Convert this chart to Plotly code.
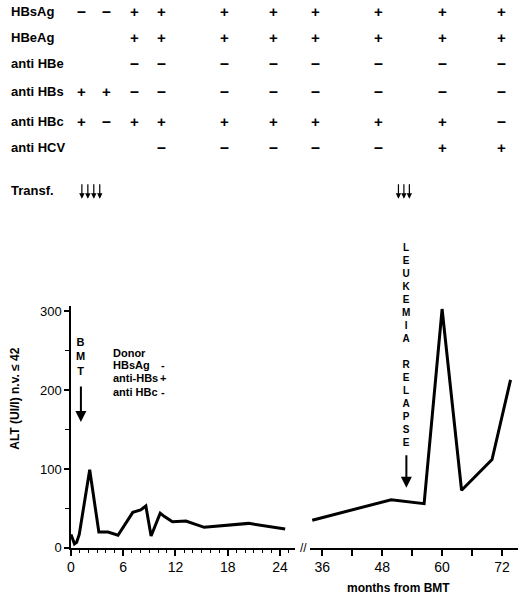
import plotly.graph_objects as go

# ALT values, months after BMT
left_months = [0, 0.4, 0.65, 0.95, 2.15, 3.2, 4.25, 5.4, 7.1, 8.0, 8.6, 9.2, 10.25, 10.7, 11.65, 13.2, 15.3, 20.4, 24.6]
left_alt = [17, 5, 7, 17, 99, 20, 20, 16, 45, 48, 53, 15, 44, 40, 33, 34, 26, 31, 24]

right_months = [34.0, 49.8, 56.4, 60.0, 63.9, 70.0, 73.7]
right_alt = [35, 61, 56, 303, 73, 112, 213]

# serology table (one entry per column)
row_names = ["HBsAg", "HBeAg", "anti HBe", "anti HBs", "anti HBc", "anti HCV"]
hbsag = ["-", "-", "+", "+", "+", "+", "+", "+", "+", "+"]
hbeag = ["", "", "+", "+", "+", "+", "+", "+", "+", "+"]
anti_hbe = ["", "", "-", "-", "-", "-", "-", "-", "-", "-"]
anti_hbs = ["+", "+", "-", "-", "-", "-", "-", "-", "-", "-"]
anti_hbc = ["+", "-", "+", "+", "+", "+", "+", "+", "+", "-"]
anti_hcv = ["", "", "", "-", "-", "-", "-", "-", "+", "+"]
table_rows = [hbsag, hbeag, anti_hbe, anti_hbs, anti_hbc, anti_hcv]

donor_labels = ["HBsAg", "anti-HBs", "anti HBc"]
donor_signs = ["-", "+", "-"]

x_ticks_left = [0, 6, 12, 18, 24]
x_ticks_right = [36, 48, 60, 72]
y_ticks = [0, 100, 200, 300]

# ========================

W = 520
H = 604
FONT = "Liberation Sans"


def px(x):
    return x / W


def py(y):
    return 1 - y / H


def note(fig, text, x, y, size, bold=True, xanchor="center", **kw):
    fig.add_annotation(
        text=text, x=px(x), y=py(y), xref="paper", yref="paper",
        xanchor=xanchor, yanchor="middle", showarrow=False,
        font=dict(family=FONT, size=size, color="black",
                  weight="bold" if bold else "normal"),
        **kw
    )


def arrow(fig, x, y_tip, length, width, size):
    fig.add_annotation(
        text="", x=px(x), y=py(y_tip), xref="paper", yref="paper",
        ax=0, ay=-length, showarrow=True, arrowhead=2,
        arrowsize=size, arrowwidth=width, arrowcolor="black",
    )


fig = go.Figure()

fig.add_trace(go.Scatter(
    x=left_months, y=left_alt, mode="lines",
    line=dict(color="black", width=3),
    xaxis="x", yaxis="y",
))
fig.add_trace(go.Scatter(
    x=right_months, y=right_alt, mode="lines",
    line=dict(color="black", width=3),
    xaxis="x2", yaxis="y",
))

axis_font = dict(family=FONT, color="black")

fig.update_layout(
    width=W, height=H,
    margin=dict(l=0, r=0, t=0, b=0),
    paper_bgcolor="white", plot_bgcolor="white",
    showlegend=False,
    xaxis=dict(
        domain=[px(67.5), px(293)], range=[0, 25.7],
        anchor="y", showgrid=False, zeroline=False,
        showline=True, linecolor="black", linewidth=1.5,
        tickmode="array", tickvals=x_ticks_left,
        ticks="outside", ticklen=6, tickwidth=1.5, tickcolor="black",
        minor=dict(dtick=1, tick0=0, ticks="outside", ticklen=3,
                   tickwidth=1.2, tickcolor="black"),
        tickfont=dict(size=14, **axis_font),
    ),
    xaxis2=dict(
        domain=[px(308), px(518)], range=[33.48, 75.2],
        anchor="y", showgrid=False, zeroline=False,
        showline=True, linecolor="black", linewidth=1.5,
        tickmode="array", tickvals=x_ticks_right,
        ticks="outside", ticklen=6, tickwidth=1.5, tickcolor="black",
        minor=dict(dtick=6, tick0=36, ticks="outside", ticklen=6,
                   tickwidth=1.5, tickcolor="black"),
        tickfont=dict(size=14, **axis_font),
    ),
    yaxis=dict(
        domain=[py(555), py(309)], range=[0, 307],
        anchor="x", showgrid=False, zeroline=False,
        showline=True, linecolor="black", linewidth=1.5,
        tickmode="array", tickvals=y_ticks,
        ticks="outside", ticklen=5, tickwidth=1.5, tickcolor="black",
        minor=dict(dtick=50, ticks="outside", ticklen=4,
                   tickwidth=1.2, tickcolor="black"),
        tickfont=dict(size=13, **axis_font),
    ),
)

# serology table on top
row_y = [9.5, 36, 63, 90.5, 121.5, 148]
col_x = [78, 103.5, 131.5, 159, 222.5, 271.5, 314, 377.5, 442, 501.5]
for name, yy in zip(row_names, row_y):
    note(fig, name, 5, yy, 13, xanchor="left")
for row, yy in zip(table_rows, row_y):
    for sign, xx in zip(row, col_x):
        if sign == "+":
            note(fig, "+", xx, yy, 15)
        elif sign == "-":
            note(fig, "–", xx, yy, 16)

note(fig, "Transf.", 5, 191.5, 13, xanchor="left")
for xx in [78.5, 84.5, 90.5, 96.5]:
    arrow(fig, xx, 200, 16, 1.2, 0.9)
for xx in [397.5, 403, 408.5]:
    arrow(fig, xx, 200, 16, 1.2, 0.9)

# BMT marker
note(fig, "B<br>M<br>T", 77.5, 360, 11)
arrow(fig, 77.5, 427, 37, 2, 1.1)

# donor serology
note(fig, "Donor", 108, 356.5, 11, xanchor="left")
for i, (lab, sign) in enumerate(zip(donor_labels, donor_signs)):
    yy = 369.5 + i * 13.3
    note(fig, lab, 108, yy, 11, xanchor="left")
    note(fig, sign, 160.5, yy, 11)

# leukemia relapse marker
relapse = "<br>".join(list("LEUKEMIA") + [" "] + list("RELAPSE"))
note(fig, relapse, 405.5, 349, 10)
arrow(fig, 405.5, 494, 34, 2, 1.1)

# axis break and titles
note(fig, "//", 301.5, 555, 12, bold=False)
note(fig, "months from BMT", 398, 596, 12)
note(fig, "ALT (UI/l) n.v. ≤ 42", 11, 403.5, 12, textangle=-90)

# page has a default 8px body margin, drop it so the figure fills the window
fig.write_html("out.html", config={"displayModeBar": False},
               post_script="document.body.style.margin = '0';")
